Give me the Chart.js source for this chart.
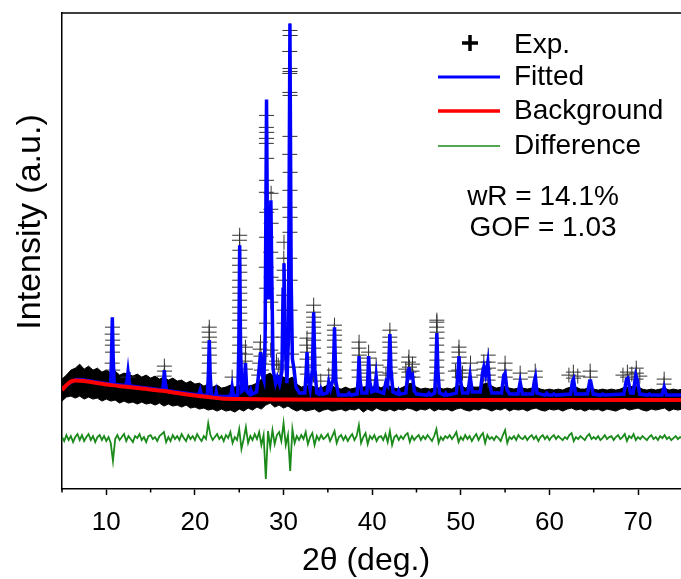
<!DOCTYPE html>
<html>
<head>
<meta charset="utf-8">
<script src="https://cdn.jsdelivr.net/npm/chart.js@4.4.1/dist/chart.umd.min.js"></script>
<style>
  html, body { margin: 0; padding: 0; background: #fff; }
  #xrd { display: block; }
</style>
</head>
<body>
<canvas id="xrd" width="681" height="579" style="width:681px;height:579px"></canvas>
<script>
const FONT = '"Liberation Sans", Arial, sans-serif';

// x axis
const xTickValues = [10, 20, 30, 40, 50, 60, 70];
const xMinorTicks = [5, 15, 25, 35, 45, 55, 65];

// background (red), [2theta, intensity]
const background = [
  [5, 9], [5.5, 14], [6, 17.5], [6.6, 18.5], [7.5, 18], [9, 16], [10.6, 14], [12, 12.5],
  [14, 10.5], [16.6, 8], [18, 6], [20, 3.5], [21.5, 2], [23, 0.5], [25, 0], [30, -0.5],
  [40, -1], [50, -1], [60, -1], [75, -1]
];

// fitted profile (blue), [2theta, intensity]
const fitted = [
  [5, 10], [6, 17], [6.6, 19.5], [7.5, 19], [9, 17], [10.5, 15],
  [10.58, 40], [10.68, 82], [10.78, 40], [10.9, 14.5],
  [12.2, 13.5], [12.35, 19], [12.45, 27], [12.55, 19], [12.7, 13],
  [14, 11.5], [16.35, 9], [16.46, 17], [16.55, 29], [16.64, 17], [16.8, 8.5],
  [18, 7], [20, 4.5], [20.45, 4.5], [20.6, 9], [20.75, 4],
  [21.4, 3.5], [21.52, 25], [21.62, 59], [21.72, 25], [21.86, 3],
  [22.3, 2.5], [22.4, 7], [22.5, 2.5], [23.6, 2.5], [24.05, 3], [24.2, 12], [24.35, 3],
  [24.83, 4], [24.95, 50], [25.05, 154], [25.15, 50], [25.3, 8], [25.55, 10], [25.7, 36], [25.85, 8],
  [26.15, 5], [26.3, 9], [26.45, 5],
  [26.95, 7], [27.15, 22], [27.42, 47], [27.6, 24], [27.78, 19],
  [27.92, 60], [28.08, 300], [28.22, 110], [28.35, 100], [28.47, 150], [28.57, 199], [28.68, 120],
  [28.82, 30], [29.1, 16], [29.3, 22], [29.55, 15],
  [29.82, 28], [29.95, 110], [30.05, 136], [30.18, 60], [30.38, 16], [30.55, 60], [30.72, 376],
  [30.86, 120], [31.0, 40], [31.2, 29], [31.4, 12], [31.8, 6],
  [32.4, 6], [32.54, 25], [32.65, 47], [32.78, 20], [33.0, 10], [33.26, 30], [33.4, 87], [33.54, 30], [33.75, 6],
  [34.0, 5], [34.2, 10], [34.4, 5], [34.9, 6], [35.1, 17], [35.3, 10], [35.6, 20], [35.75, 72], [35.9, 18], [36.2, 4],
  [37.2, 4], [37.4, 6], [37.6, 4], [38.3, 5], [38.42, 20], [38.52, 43], [38.64, 18], [38.85, 6],
  [39.4, 6], [39.5, 20], [39.6, 43], [39.72, 18], [39.95, 7], [40.25, 8], [40.45, 23], [40.62, 8],
  [41.3, 6], [41.55, 17], [41.75, 14], [41.88, 35], [42.0, 65], [42.12, 30], [42.35, 7],
  [42.9, 5], [43.0, 8], [43.15, 5], [43.8, 6], [44.05, 28], [44.15, 32], [44.35, 22], [44.55, 24], [44.75, 8], [45.0, 5],
  [46.2, 4], [46.4, 6], [46.6, 4], [47.05, 6], [47.19, 30], [47.3, 66], [47.42, 28], [47.6, 6],
  [48.15, 4], [48.3, 6], [48.45, 4], [49.5, 6], [49.67, 25], [49.8, 43], [49.95, 20], [50.2, 6],
  [50.8, 6], [51.05, 23], [51.3, 7], [52.2, 7], [52.45, 26], [52.6, 32], [52.8, 24], [53.05, 37], [53.25, 15], [53.5, 6],
  [54.6, 6], [54.85, 24], [55.0, 26], [55.2, 10], [55.5, 5],
  [56.45, 5], [56.7, 17], [56.95, 5], [58.1, 5], [58.3, 18], [58.42, 22], [58.6, 6],
  [59.5, 4], [59.7, 6], [59.9, 4], [60.3, 4], [60.5, 5], [60.7, 4],
  [62.4, 5], [62.6, 18], [62.72, 20], [62.95, 5], [64.3, 5], [64.55, 18], [64.65, 18], [64.95, 5],
  [65.8, 4], [66.0, 5], [66.2, 4], [68.4, 5], [68.7, 20], [68.85, 21], [69.15, 6], [69.45, 6],
  [69.75, 24], [69.9, 20], [70.2, 5],
  [71.1, 4], [71.3, 5], [71.5, 4], [72.7, 4], [72.95, 12], [73.2, 4], [75, 4]
];

// observed points on the peaks (black +), [2theta, intensity]
const expMarks = [
  [10.7, 72], [10.66, 65], [10.72, 59], [10.68, 54], [10.7, 47], [10.66, 36], [10.72, 29],
  [12.45, 22],
  [16.55, 33], [16.58, 28], [16.52, 23],
  [21.62, 72], [21.6, 67], [21.64, 62], [21.62, 57], [21.6, 51], [21.64, 44], [21.62, 36], [21.6, 26],
  [24.2, 22],
  [25.05, 164], [25.03, 159], [25.07, 149], [25.05, 141], [25.03, 134], [25.07, 127], [25.05, 119],
  [25.03, 112], [25.07, 106], [25.05, 99], [25.03, 92], [25.07, 86], [25.05, 79], [25.03, 71],
  [25.07, 62], [25.05, 54], [25.03, 46], [25.07, 36],
  [25.7, 52], [25.72, 45], [25.68, 38], [25.7, 30],
  [27.4, 57], [27.35, 50], [27.45, 43], [27.3, 36], [27.5, 29], [27.2, 24],
  [28.08, 284], [28.06, 272], [28.1, 267], [28.08, 261], [28.06, 256], [28.1, 241], [28.08, 219],
  [28.06, 207], [28.1, 187], [28.08, 162], [28.06, 132], [28.1, 111], [28.08, 76], [28.0, 45],
  [28.6, 206], [28.57, 190], [28.6, 176], [28.55, 147], [28.6, 122], [28.57, 97], [28.62, 62], [28.55, 49], [28.8, 35],
  [29.2, 38], [29.4, 34], [29.6, 30],
  [30.05, 157], [30.03, 141], [30.07, 129], [30.05, 119], [30.03, 104], [30.07, 89], [30.05, 76],
  [30.03, 62], [30.07, 46], [30.3, 32],
  [30.72, 369], [30.74, 364], [30.7, 348], [30.72, 331], [30.74, 328], [30.7, 326], [30.72, 307],
  [30.74, 304], [30.72, 263], [30.7, 245], [30.74, 227], [30.72, 209], [30.7, 192], [30.74, 182],
  [30.72, 167], [30.7, 141], [30.74, 119], [30.72, 89], [30.7, 62], [30.9, 45], [31.1, 32],
  [32.65, 61], [32.62, 54], [32.68, 47], [32.65, 40], [32.62, 32], [32.68, 25],
  [33.4, 94], [33.38, 87], [33.42, 82], [33.4, 77], [33.38, 72], [33.42, 66], [33.4, 59],
  [33.38, 51], [33.42, 42], [33.4, 34], [33.38, 24],
  [34.2, 18], [35.1, 24],
  [35.75, 74], [35.73, 69], [35.77, 64], [35.75, 59], [35.73, 52], [35.77, 46], [35.75, 37], [35.73, 29], [35.77, 21],
  [38.52, 57], [38.5, 51], [38.54, 44], [38.52, 37], [38.5, 29], [38.54, 22],
  [39.6, 47], [39.58, 41], [39.62, 34], [39.6, 26], [39.58, 19],
  [40.45, 34], [40.43, 27], [40.47, 19],
  [41.55, 24],
  [42.0, 69], [42.0, 62], [41.98, 57], [42.02, 52], [42.0, 46], [41.98, 39], [42.02, 32], [42.0, 26],
  [44.15, 42], [44.1, 37], [44.2, 32], [44.15, 27], [44.1, 22], [43.8, 30], [44.55, 35], [44.5, 28], [44.6, 22],
  [47.3, 79], [47.3, 77], [47.28, 72], [47.32, 67], [47.3, 61], [47.28, 54], [47.32, 47], [47.3, 39],
  [47.28, 32], [47.32, 26], [47.3, 19],
  [49.8, 52], [49.78, 47], [49.82, 42], [49.8, 36], [49.78, 29], [49.82, 22], [49.4, 28], [50.2, 26],
  [51.1, 36], [51.08, 29], [51.12, 22],
  [53.1, 44], [53.08, 37], [53.12, 31], [53.1, 24], [53.08, 19], [52.6, 37], [52.62, 30], [52.58, 24],
  [55.0, 36], [54.98, 29], [55.02, 22],
  [56.7, 26], [56.72, 20],
  [58.4, 28], [58.42, 22],
  [62.7, 27], [62.72, 21], [62.2, 24], [63.2, 23],
  [64.6, 28], [64.62, 22],
  [68.8, 27], [68.82, 22], [69.8, 31], [69.82, 26], [69.78, 20], [68.3, 24], [69.3, 25], [70.2, 23],
  [72.95, 20], [72.93, 15]
];

// observed noise band, sampled from 5 deg in 0.5 deg steps
const expStart = 5;
const expStep = 0.5;
const expUpper = [
  20, 24, 29, 31, 35, 30, 33, 29, 31, 27, 29, 26, 28, 24, 26, 25, 23, 25, 22, 24,
  21, 23, 20, 22, 19, 21, 18, 19, 16, 18, 15, 16, 13, 15, 12, 14, 11, 12, 14, 12,
  14, 15, 13, 14, 16, 20, 24, 26, 22, 24, 22, 20, 22, 15, 12, 13, 14, 12, 11, 12,
  14, 13, 11, 10, 12, 10, 11, 12, 12, 13, 12, 14, 11, 14, 13, 11, 10, 12, 15, 16,
  12, 10, 11, 10, 11, 12, 10, 11, 10, 13, 14, 11, 13, 12, 12, 15, 16, 13, 11, 12,
  13, 11, 10, 11, 11, 10, 11, 12, 10, 9, 10, 9, 10, 9, 11, 12, 12, 10, 10, 12,
  10, 9, 10, 9, 10, 9, 10, 12, 12, 13, 12, 10, 9, 10, 9, 10, 11, 9, 10, 9, 10
];
const expLower = [
  -2, 2, 3, 1, 3, 0, 2, 0, 1, -2, 0, -2, -1, -4, -2, -4, -3, -5, -3, -5,
  -4, -6, -4, -7, -5, -7, -6, -8, -6, -9, -8, -10, -9, -11, -10, -12, -10, -12, -11, -13,
  -10, -12, -9, -11, -8, -10, -6, -4, -8, -6, -9, -7, -10, -12, -10, -12, -11, -10, -13, -11,
  -10, -12, -11, -10, -12, -10, -11, -9, -13, -10, -12, -9, -11, -12, -10, -12, -10, -11, -9, -10,
  -12, -10, -11, -9, -12, -10, -11, -10, -12, -10, -9, -11, -12, -10, -11, -9, -10, -12, -10, -11,
  -9, -12, -10, -11, -10, -12, -10, -9, -11, -12, -10, -11, -10, -12, -10, -9, -11, -10, -12, -10,
  -11, -10, -12, -10, -11, -12, -10, -9, -11, -10, -9, -11, -12, -10, -11, -10, -9, -12, -10, -11, -10
];

// difference curve (green), sampled from 5 deg in 0.25 deg steps
const diffStart = 5;
const diffStep = 0.25;
const diffValues = [
  -38, -42, -36, -41,  -37, -43, -38, -35,  -41, -36, -42, -38,  -35, -41, -37, -43,
  -38, -36, -41, -37,  -42, -38, -44, -62,  -40, -36, -41, -38,  -35, -42, -37, -40,
  -43, -37, -39, -35,  -41, -38, -43, -37,  -36, -40, -38, -42,  -37, -35, -33, -43,
  -38, -42, -36, -40,  -37, -41, -35, -39,  -42, -36, -40, -37,  -41, -35, -39, -42,
  -37, -40, -24, -36,  -41, -38, -35, -40,  -37, -42, -36, -39,  -33, -44, -38, -41,
  -30, -50, -40, -28,  -44, -37, -41, -35,  -40, -33, -46, -36,  -80, -32, -48, -31,
  -45, -36, -33, -42,  -24, -46, -36, -72,  -30, -44, -37, -41,  -36, -40, -33, -45,
  -38, -34, -46, -37,  -41, -36, -40, -38,  -35, -42, -37, -32,  -44, -38, -36, -41,
  -37, -42, -38, -35,  -41, -37, -26, -44,  -38, -34, -45, -37,  -40, -36, -42, -38,
  -37, -41, -35, -43,  -32, -46, -38, -36,  -41, -37, -40, -36,  -34, -43, -37, -41,
  -38, -36, -41, -37,  -40, -36, -39, -42,  -37, -30, -44, -38,  -41, -37, -39, -36,
  -40, -37, -33, -43,  -38, -41, -36, -40,  -37, -42, -38, -35,  -41, -37, -34, -44,
  -36, -40, -38, -41,  -37, -39, -42, -36,  -31, -44, -38, -40,  -37, -41, -36, -39,
  -40, -37, -41, -38,  -36, -40, -37, -42,  -38, -36, -40, -37,  -41, -38, -36, -40,
  -37, -39, -41, -38,  -40, -36, -34, -42,  -38, -40, -37, -39,  -41, -37, -35, -40,
  -38, -40, -37, -41,  -39, -36, -40, -38,  -37, -41, -38, -36,  -40, -38, -35, -42,
  -37, -39, -35, -41,  -38, -40, -37, -39,  -41, -38, -36, -40,  -38, -41, -37, -39,
  -36, -40, -38, -41,  -39, -37, -40, -38,  -39
];

const pairs = (arr) => arr.map(([x, y]) => ({ x, y }));
const stepped = (start, step, values) => values.map((y, i) => ({ x: start + i * step, y }));

const decorPlugin = {
  id: 'decor',
  afterDraw(chart) {
    const { ctx, chartArea, scales: { x } } = chart;
    ctx.save();
    ctx.strokeStyle = '#000';
    ctx.lineWidth = 1.5;
    ctx.beginPath();
    ctx.moveTo(chartArea.left, chartArea.top);
    ctx.lineTo(chartArea.right, chartArea.top);
    for (const v of xMinorTicks) {
      const px = x.getPixelForValue(v);
      ctx.moveTo(px, chartArea.bottom);
      ctx.lineTo(px, chartArea.bottom + 3.5);
    }
    ctx.stroke();

    ctx.fillStyle = '#000';
    ctx.textAlign = 'center';
    ctx.textBaseline = 'middle';
    ctx.font = '32px ' + FONT;
    ctx.fillText('2\u03b8 (deg.)', 366, 561);
    ctx.save();
    ctx.translate(31, 222);
    ctx.rotate(-Math.PI / 2);
    ctx.font = '34px ' + FONT;
    ctx.fillText('Intensity (a.u.)', 0, 0);
    ctx.restore();

    // legend
    ctx.lineWidth = 3.5;
    ctx.beginPath();
    ctx.moveTo(462, 43); ctx.lineTo(478, 43);
    ctx.moveTo(470, 35); ctx.lineTo(470, 51);
    ctx.stroke();
    const rows = [
      { y: 77, color: '#0000ff', width: 3 },
      { y: 111, color: '#ff0000', width: 3.5 },
      { y: 146, color: '#1a8a1a', width: 1.5 }
    ];
    for (const r of rows) {
      ctx.strokeStyle = r.color;
      ctx.lineWidth = r.width;
      ctx.beginPath();
      ctx.moveTo(438, r.y);
      ctx.lineTo(500, r.y);
      ctx.stroke();
    }
    ctx.textAlign = 'left';
    ctx.font = '28px ' + FONT;
    ctx.fillText('Exp.', 514, 45);
    ctx.fillText('Fitted', 514, 77);
    ctx.fillText('Background', 514, 111);
    ctx.fillText('Difference', 514, 146);
    ctx.textAlign = 'center';
    ctx.fillText('wR = 14.1%', 543, 197);
    ctx.fillText('GOF = 1.03', 543, 228);
    ctx.restore();
  }
};

new Chart(document.getElementById('xrd'), {
  type: 'line',
  data: {
    datasets: [
      {
        label: 'Background',
        data: pairs(background),
        borderColor: '#ff0000',
        borderWidth: 4,
        pointRadius: 0,
        cubicInterpolationMode: 'monotone',
        order: 0
      },
      {
        label: 'Fitted',
        data: pairs(fitted),
        borderColor: '#0000ff',
        borderWidth: 3.5,
        pointRadius: 0,
        order: 1
      },
      {
        label: 'Difference',
        data: stepped(diffStart, diffStep, diffValues),
        borderColor: '#1a8a1a',
        borderWidth: 1.8,
        pointRadius: 0,
        order: 2
      },
      {
        label: 'Exp.',
        data: pairs(expMarks),
        showLine: false,
        pointStyle: 'cross',
        pointRadius: 7.5,
        pointBorderWidth: 1,
        pointBorderColor: '#333',
        order: 3
      },
      {
        label: 'Exp. upper',
        data: stepped(expStart, expStep, expUpper),
        borderColor: '#000',
        borderWidth: 1,
        backgroundColor: '#000',
        pointRadius: 0,
        fill: '+1',
        order: 4
      },
      {
        label: 'Exp. lower',
        data: stepped(expStart, expStep, expLower),
        borderColor: '#000',
        borderWidth: 1,
        pointRadius: 0,
        fill: false,
        order: 5
      }
    ]
  },
  options: {
    responsive: false,
    animation: false,
    devicePixelRatio: 1,
    layout: { autoPadding: false, padding: { top: 13, left: 0, right: 0, bottom: 0 } },
    plugins: {
      legend: { display: false },
      tooltip: { enabled: false }
    },
    scales: {
      x: {
        type: 'linear',
        min: 5,
        max: 74.85,
        afterBuildTicks: (s) => { s.ticks = xTickValues.map((v) => ({ value: v })); },
        afterFit: (s) => { s.height = 90; s.paddingLeft = 0; s.paddingRight = 0; },
        grid: { display: true, drawOnChartArea: false, drawTicks: true, tickLength: 6, tickColor: '#000', tickWidth: 1.5 },
        border: { display: true, color: '#000', width: 1.5 },
        ticks: {
          color: '#000',
          font: { size: 26, family: FONT },
          padding: 12,
          maxRotation: 0,
          autoSkip: false,
          callback: (v) => String(v)
        }
      },
      y: {
        min: -90,
        max: 386.5,
        afterFit: (s) => { s.width = 62; },
        ticks: { display: false },
        grid: { display: false },
        border: { display: true, color: '#000', width: 1.5 }
      }
    }
  },
  plugins: [decorPlugin]
});
</script>
</body>
</html>
